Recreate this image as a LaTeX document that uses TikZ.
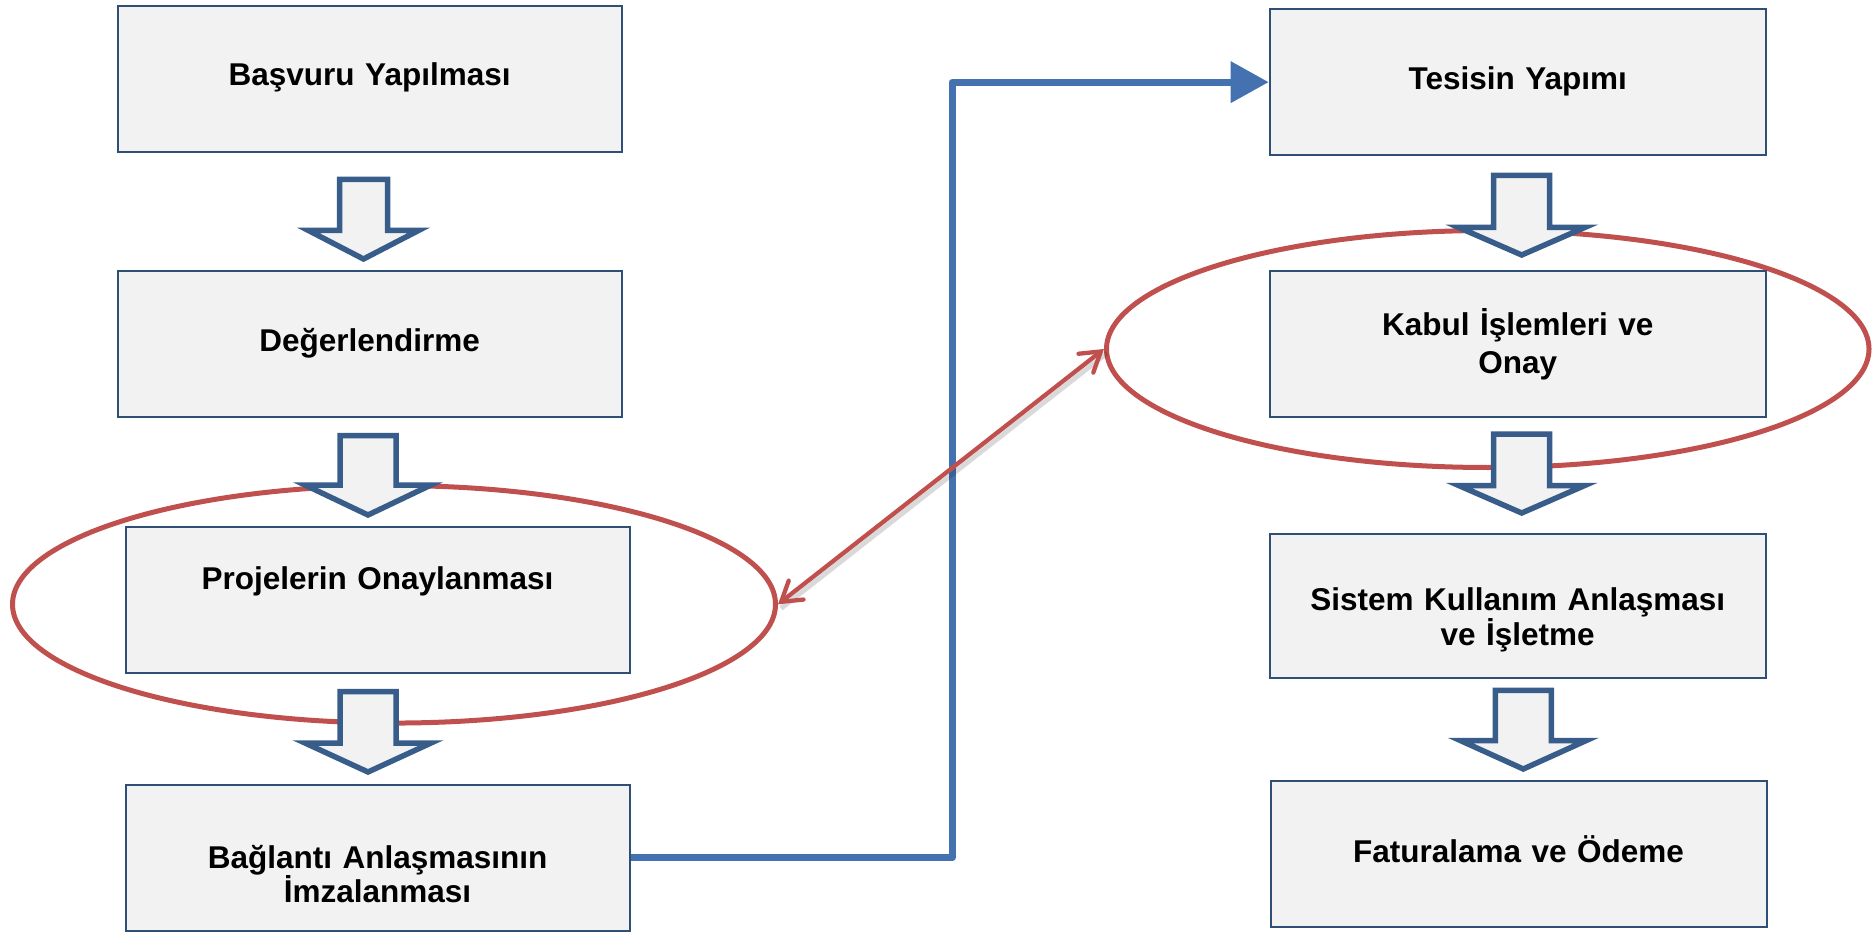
\documentclass[tikz,border=0pt]{standalone}
\usepackage{fontspec}
\setmainfont{Liberation Sans}
\usetikzlibrary{arrows.meta,shapes.geometric}
\definecolor{boxfill}{HTML}{F2F2F2}
\definecolor{boxline}{HTML}{2F4F77}
\definecolor{arrline}{HTML}{385D8A}
\definecolor{conn}{RGB}{68,114,176}
\definecolor{ovalred}{HTML}{C0504D}
\tikzset{
  stepbox/.style={draw=boxline, fill=boxfill, line width=2pt, rectangle, inner sep=0pt,
    minimum height=146pt},
  leftbox/.style={stepbox, minimum width=504pt},
  rightbox/.style={stepbox, minimum width=496pt},
  txt/.style={anchor=base, inner sep=0pt, text width=480pt, align=center,
    font=\fontsize{31.5pt}{31pt}\selectfont\bfseries},
  blockarrow/.style={draw=arrline, fill=boxfill, line width=5.5pt, line join=miter},
  oval/.style={ellipse, draw=ovalred, line width=5pt, inner sep=0pt},
  flowline/.style={draw=conn, line width=7pt, line join=round,
    -{Triangle[length=38pt,width=40pt]}},
  linkline/.style={draw=ovalred, line width=4.3pt, line cap=round,
    {Straight Barb[length=19pt,width=24pt,line cap=round]}-{Straight Barb[length=19pt,width=24pt,line cap=round]}},
}
\newcommand\blockarr[6]{%
  \draw[blockarrow] (#1-#5,#2) -- (#1+#5,#2) -- (#1+#5,#3) -- (#1+#6,#3) -- (#1,#4)
    -- (#1-#6,#3) -- (#1-#5,#3) -- cycle;}
\begin{document}
\begin{tikzpicture}[x=1pt,y=-1pt]
\useasboundingbox (0,0) rectangle (1874,933);
% ovals
\node[oval, minimum width=763pt, minimum height=237.5pt] (e1) at (394,604.3) {};
\node[oval, minimum width=762.5pt, minimum height=237pt] (e2) at (1487.75,349) {};
% boxes
\node[leftbox] (b1) at (369.65,78.9) {};
\node[leftbox] (b2) at (369.65,343.8) {};
\node[leftbox] (b3) at (377.55,599.8) {};
\node[leftbox] (b4) at (377.55,857.75) {};
\node[rightbox] (b5) at (1517.7,82.15) {};
\node[rightbox] (b6) at (1517.7,343.8) {};
\node[rightbox, minimum height=144pt] (b7) at (1517.7,605.65) {};
\node[rightbox] (b8) at (1518.55,853.6) {};
% texts
\node[txt] (t1) at (369.65,86) {Başvuru Yapılması};
\node[txt] (t2) at (369.65,352) {Değerlendirme};
\node[txt] (t3) at (377.55,589) {Projelerin Onaylanması};
\node[txt] (t4) at (377.55,868) {Bağlantı Anlaşmasının\\İmzalanması};
\node[txt] (t5) at (1517.7,90) {Tesisin Yapımı};
\node[txt] (t6) at (1517.7,335) {Kabul İşlemleri ve\\[7pt]Onay};
\node[txt] (t7) at (1517.7,610.5) {Sistem Kullanım Anlaşması\\ve İşletme};
\node[txt] (t8) at (1518.55,862.7) {Faturalama ve Ödeme};
% block arrows
\blockarr{363.5}{179.5}{230.5}{259}{24}{55}
\blockarr{368}{435.5}{485}{515}{28}{63}
\blockarr{368}{691.5}{743}{772}{28}{63}
\blockarr{1521.7}{175.4}{227.5}{255}{28}{63}
\blockarr{1521.7}{434}{485.5}{513}{28}{63}
\blockarr{1523.3}{690.3}{740.5}{769}{28}{63}
% blue connector
\coordinate (via) at (952,857.75);
\draw[flowline] (b4.east) -- (via) |- (b5.west);
% red link between ovals
\draw[black, opacity=0.15, line width=5pt] ([xshift=3pt,yshift=-4pt]e1.east) -- ([xshift=3pt,yshift=-4pt]e2.west);
\draw[linkline] (e1.east) -- (e2.west);
\end{tikzpicture}
\end{document}
